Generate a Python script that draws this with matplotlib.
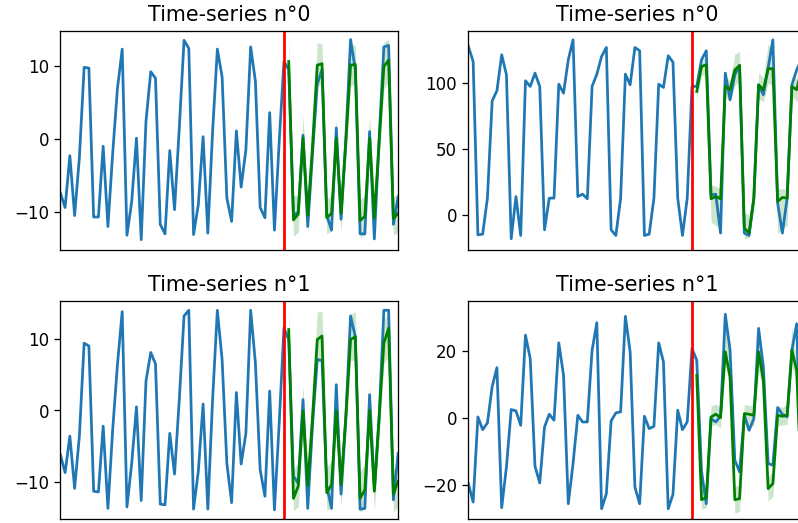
import numpy as np
import matplotlib
matplotlib.use("Agg")
import matplotlib.pyplot as plt

# Forecast split: history is 0..47, forecast 48..71
split = 47
n_points = 72
steps = np.arange(n_points)
fc_steps = np.arange(split + 1, n_points)

titles = ["Time-series n°0", "Time-series n°0", "Time-series n°1", "Time-series n°1"]

# Top-left series
tl_actual = [-7.4, -9.4, -2.3, -10.5, -2.6, 9.8, 9.7, -10.7, -10.7, -1.0, -12.0, -2.0,
             6.9, 12.3, -13.2, -8.6, 0.1, -13.8, 2.4, 9.2, 8.3, -11.7, -13.0, -1.6,
             -9.7, 1.5, 13.5, 12.4, -13.1, -9.0, 0.3, -12.9, 1.0, 12.3, 8.5, -8.1,
             -11.3, 1.1, -6.6, -1.5, 12.6, 7.9, -9.4, -10.8, 3.6, -12.5, -0.4, 10.6,
             9.5, -10.5, -10.0, 0.5, -12.0, -2.0, 7.5, 9.5, -10.5, -12.5, 1.5, -11.0,
             0.0, 13.6, 9.5, -13.0, -13.0, 1.0, -13.7, 0.0, 12.6, 12.8, -11.7, -8.0]
tl_pred = [10.6, -11.1, -10.3, 0.1, -10.5, -1.0, 10.1, 10.3, -10.8, -10.2, 0.1, -10.2,
           -0.5, 10.1, 10.2, -11.2, -10.6, 0.1, -10.8, -0.5, 9.9, 10.8, -10.9, -10.2]
tl_upper = [13.8, -7.8, -7.6, 3.2, -7.8, 1.5, 13.2, 13.0, -8.3, -7.6, 2.8, -7.6,
            2.0, 13.0, 12.8, -8.3, -7.8, 3.2, -8.0, 2.2, 13.3, 13.6, -8.0, -7.3]
tl_lower = [7.4, -13.3, -12.8, -2.8, -13.0, -3.5, 7.2, 7.5, -13.0, -12.6, -2.6, -12.7,
            -3.0, 7.2, 7.6, -13.5, -13.2, -2.7, -13.2, -3.2, 6.8, 7.8, -13.2, -12.8]

# Top-right series
tr_actual = [127.8, 116.4, -14.9, -14.4, 12.9, 86.6, 94.2, 121.5, 106.3, -17.9, 14.1, -15.4,
             101.8, 97.5, 107.6, 97.5, -11.1, 12.9, 12.9, 99.2, 92.4, 117.7, 132.8, 14.1,
             15.9, 12.4, 97.5, 106.8, 120.2, 127.0, -11.1, -15.4, 12.9, 106.8, 98.7, 127.0,
             124.5, -15.4, -14.4, 12.9, 99.2, 96.7, 120.7, 115.9, 12.9, -15.4, 12.9, 97.5,
             97.5, 117.7, 124.5, 15.4, 15.9, -13.6, 107.6, 87.4, 106.3, 113.4, -13.6, -15.4,
             12.9, 98.7, 91.2, 111.4, 132.8, 9.1, -13.6, 12.9, 98.7, 110.0, 118.0, 125.0]
tr_pred = [93.7, 112.6, 113.9, 12.4, 14.1, 12.4, 97.5, 95.0, 110.0, 113.4, -9.8, -13.6,
           12.9, 98.7, 95.0, 110.9, 110.9, 10.4, 13.4, 12.9, 97.5, 95.0, 110.0, 112.0]
tr_upper = [100, 118, 120, 23, 22, 20, 105, 102, 122, 124, 2, 0,
            20, 108, 104, 130, 122, 20, 20, 20, 105, 103, 120, 122]
tr_lower = [88, 106, 106, -5, -8, -10, 90, 86, 98, 102, -18, -17,
            5, 88, 86, 100, 98, -14, -10, -8, 90, 86, 100, 102]

# Bottom-left series
bl_actual = [-6.2, -8.7, -3.6, -10.9, -3.6, 9.4, 9.0, -11.3, -11.4, -2.2, -13.7, -2.7,
             6.4, 13.8, -13.5, -7.4, 0.5, -12.6, 4.1, 8.1, 6.5, -13.1, -13.2, -3.2,
             -8.9, 1.5, 13.2, 14.0, -13.8, -8.5, 0.9, -13.8, 1.5, 14.0, 7.1, -7.4,
             -12.9, 2.5, -7.5, -3.2, 14.0, 6.6, -8.3, -12.0, 2.7, -13.9, -1.8, 11.5,
             9.9, -9.2, -10.2, 1.5, -13.7, -2.0, 7.1, 7.0, -10.6, -13.7, 3.6, -11.7,
             -1.0, 13.2, 10.3, -13.8, -13.7, 2.2, -11.1, -1.0, 14.0, 14.0, -12.5, -6.0]
bl_pred = [11.3, -12.3, -10.6, -0.1, -10.5, -1.0, 9.9, 10.4, -11.5, -10.4, -0.1, -10.4,
           -1.0, 9.9, 10.3, -12.3, -11.1, 0.0, -11.3, -1.0, 9.4, 11.5, -11.7, -9.9]
bl_upper = [14.2, -8.5, -7.0, 3.5, -7.0, 2.0, 13.8, 13.8, -8.0, -7.0, 3.0, -7.0,
            2.0, 13.5, 13.8, -8.5, -7.5, 3.5, -7.8, 2.0, 12.5, 14.0, -8.3, -6.5]
bl_lower = [8.0, -14.0, -13.5, -3.5, -13.5, -4.0, 6.6, 7.2, -14.0, -13.5, -3.0, -13.5,
            -4.0, 7.0, 7.0, -14.2, -13.8, -3.0, -14.0, -4.0, 6.5, 7.5, -14.2, -13.5]

# Bottom-right series
br_actual = [-19.7, -25.2, 0.2, -3.6, -1.6, 9.2, 14.9, -26.9, -14.7, 2.4, 2.0, -2.3,
             24.6, 17.6, -14.5, -19.5, -2.8, 1.0, -0.8, 22.3, 12.6, -25.7, -13.7, 0.7,
             -1.3, -1.3, 20.1, 28.3, -27.2, -22.7, -1.0, 1.4, 1.7, 30.2, 19.6, -20.7,
             -25.7, 0.4, -3.3, -2.6, 22.3, 16.6, -27.2, -22.9, 2.2, -3.6, -1.3, 20.6,
             17.1, -16.0, -25.7, -0.3, -1.3, 0.4, 30.8, 20.1, -12.7, -16.2, 0.7, -3.8,
             -0.3, 26.6, 15.1, -13.7, -14.2, 3.0, 1.0, 0.2, 20.1, 28.0, -20.0, -25.0]
br_pred = [12.6, -24.5, -23.9, 0.2, 1.0, 0.0, 19.6, 12.1, -24.5, -24.2, 1.2, 1.0,
           0.7, 19.6, 11.1, -21.2, -19.7, 0.7, 0.4, 0.7, 20.1, 14.1, -22.0, -21.0]
br_upper = [16.0, -21.5, -21.0, 3.5, 4.0, 3.0, 32.0, 16.5, -20.5, -20.0, 4.0, 3.5,
            4.0, 28.5, 15.0, -17.5, -16.0, 3.5, 3.0, 4.0, 27.0, 17.0, -18.0, -17.0]
br_lower = [9.0, -27.2, -27.0, -2.5, -2.0, -3.0, 16.0, 8.5, -28.5, -28.0, -2.0, -2.5,
            -2.5, 14.0, 7.5, -25.0, -23.5, -2.5, -2.2, -2.0, 15.0, 11.0, -25.0, -24.0]

panels = [
    (tl_actual, tl_pred, tl_lower, tl_upper, (-15.2, 14.8), [-10, 0, 10]),
    (tr_actual, tr_pred, tr_lower, tr_upper, (-26.3, 139.6), [0, 50, 100]),
    (bl_actual, bl_pred, bl_lower, bl_upper, (-15.25, 15.35), [-10, 0, 10]),
    (br_actual, br_pred, br_lower, br_upper, (-30.4, 34.9), [-20, 0, 20]),
]

# axes boxes in figure fraction; the right column runs past the figure edge
boxes = [
    [0.0756, 0.522, 0.4232, 0.4187],
    [0.5868, 0.522, 0.4232, 0.4187],
    [0.0756, 0.0067, 0.4232, 0.4184],
    [0.5868, 0.0067, 0.4232, 0.4184],
]

dpi = 116
fig = plt.figure(figsize=(798.2 / dpi, 523.2 / dpi), dpi=dpi)

for (actual, pred, lower, upper, ylim, yticks), box, title in zip(panels, boxes, titles):
    ax = fig.add_axes(box)
    ax.plot(steps, actual, color="#1f77b4", lw=1.7)
    ax.plot(fc_steps, pred, color="green", lw=1.7)
    ax.fill_between(fc_steps, lower, upper, color="green", alpha=0.2, linewidth=0)
    ax.axvline(split, color="red", lw=1.7)
    ax.set_xlim(0, n_points - 1)
    ax.set_ylim(*ylim)
    ax.set_yticks(yticks)
    ax.set_xticks([])
    ax.tick_params(labelsize=10.3)
    ax.set_title(title, fontsize=12.8)

fig.savefig("out.png", dpi=dpi)
